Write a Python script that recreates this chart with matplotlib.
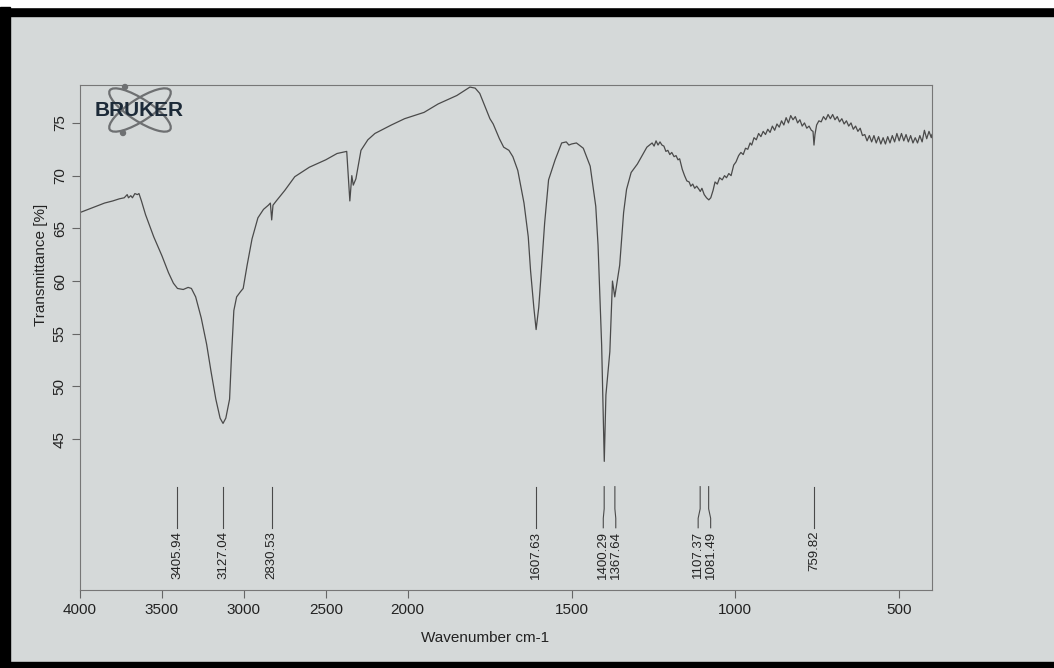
"""
FTIR spectrum, Bruker OPUS style printout with picked peaks.
The x axis is compressed by a factor of two above 2000 cm-1.
"""

import matplotlib.pyplot as plt
import numpy as np
from matplotlib.patches import Ellipse, Circle, Rectangle

WAVENUMBER = [
    4000, 3950, 3900, 3850, 3800, 3760, 3730, 3712, 3704, 3690, 3680, 3665,
    3650, 3640, 3625, 3600, 3550, 3500, 3460, 3430, 3405, 3370, 3340, 3320,
    3294, 3260, 3227, 3200, 3171, 3145, 3127, 3110, 3087, 3075, 3061, 3044,
    3020, 3004, 2980, 2950, 2914, 2880, 2850, 2838, 2830, 2822, 2802, 2750,
    2689, 2600, 2500, 2431, 2372, 2353, 2341, 2332, 2316, 2285, 2243, 2200,
    2100, 2019, 1950, 1907, 1850, 1820, 1810, 1794, 1780, 1767, 1749, 1739,
    1720, 1707, 1691, 1679, 1664, 1645, 1632, 1625, 1615, 1608, 1600, 1594,
    1582, 1570, 1550, 1530, 1516, 1508, 1500, 1485, 1464, 1443, 1426, 1419,
    1408, 1400, 1395, 1383, 1375, 1368, 1353, 1341, 1332, 1318, 1299, 1270,
    1262, 1254, 1248, 1242, 1236, 1230, 1224, 1218, 1212, 1206, 1200, 1194,
    1187, 1181, 1175, 1170, 1162, 1155, 1148, 1141, 1136, 1130, 1124, 1118,
    1111, 1107, 1102, 1095, 1088, 1081, 1075, 1068, 1062, 1055, 1048, 1040,
    1033, 1027, 1020, 1013, 1005, 998, 990, 983, 976, 969, 962, 955,
    950, 943, 936, 929, 922, 915, 908, 901, 894, 887, 880, 873,
    866, 859, 852, 845, 838, 831, 824, 817, 810, 803, 796, 789,
    782, 775, 768, 763, 760, 757, 752, 745, 738, 731, 724, 717,
    710, 703, 696, 689, 682, 675, 668, 661, 654, 647, 640, 633,
    626, 619, 612, 605, 598, 591, 584, 577, 570, 563, 556, 549,
    542, 535, 528, 521, 514, 507, 500, 493, 486, 479, 472, 465,
    458, 451, 444, 437, 430, 423, 416, 409, 402, 400,
]
TRANSMITTANCE = [
    66.5, 66.8, 67.1, 67.4, 67.6, 67.8, 67.9, 68.2, 67.9, 68.1, 67.9, 68.3,
    68.2, 68.3, 67.6, 66.3, 64.2, 62.4, 60.8, 59.8, 59.3, 59.2, 59.4, 59.3,
    58.5, 56.5, 54.0, 51.4, 48.8, 47.0, 46.5, 47.0, 48.8, 53.0, 57.2, 58.5,
    59.0, 59.3, 61.5, 64.0, 66.0, 66.8, 67.2, 67.4, 65.8, 67.2, 67.6, 68.6,
    69.9, 70.8, 71.5, 72.1, 72.3, 67.6, 70.0, 69.1, 69.7, 72.4, 73.4, 74.0,
    74.8, 75.4, 76.0, 76.8, 77.6, 78.2, 78.4, 78.3, 77.8, 76.8, 75.4, 74.9,
    73.5, 72.7, 72.4, 71.8, 70.5, 67.4, 64.2, 61.0, 57.5, 55.4, 57.5, 60.1,
    65.5, 69.6, 71.5, 73.1, 73.2, 72.9, 73.0, 73.1, 72.6, 70.9, 67.1, 63.4,
    53.9, 42.9, 49.2, 53.3, 60.0, 58.5, 61.5, 66.5, 68.7, 70.3, 71.1, 72.7,
    72.9, 73.1, 72.8, 73.3, 72.9, 73.2, 72.9, 72.8, 72.3, 72.4, 72.0, 72.2,
    71.8, 71.9, 71.5, 71.6, 70.6, 70.0, 69.5, 69.4, 69.0, 69.2, 68.8, 69.0,
    68.7, 68.5, 68.8, 68.2, 67.9, 67.7, 67.9, 68.6, 69.4, 69.2, 69.8, 69.6,
    70.0, 69.8, 70.2, 70.0, 71.0, 71.3, 71.9, 72.2, 72.0, 72.6, 72.5, 73.1,
    72.9, 73.6, 73.4, 74.0, 73.7, 74.2, 73.9, 74.4, 74.1, 74.7, 74.3, 74.9,
    74.6, 75.2, 74.8, 75.5, 75.0, 75.7, 75.3, 75.6, 75.0, 75.3, 74.7, 75.0,
    74.5, 74.7, 74.3, 74.2, 72.9, 73.9, 74.8, 75.2, 75.1, 75.6, 75.3, 75.8,
    75.4, 75.8, 75.3, 75.6, 75.1, 75.4, 74.9, 75.2, 74.7, 75.0, 74.4, 74.7,
    74.2, 74.5, 73.8, 73.9, 73.3, 73.8, 73.2, 73.8, 73.1, 73.7, 73.0, 73.6,
    73.0, 73.7, 73.1, 73.8, 73.2, 74.0, 73.3, 74.0, 73.3, 73.9, 73.2, 73.8,
    73.1, 73.6, 73.1, 73.8, 73.2, 74.3, 73.5, 74.2, 73.6, 73.9,
]

PEAKS = [3405.94, 3127.04, 2830.53, 1607.63, 1400.29, 1367.64,
         1107.37, 1081.49, 759.82]
X_TICKS = [4000, 3500, 3000, 2500, 2000, 1500, 1000, 500]
Y_TICKS = [45, 50, 55, 60, 65, 70, 75]

PAPER = "#d5d9d9"
INK = "#4a4a4a"


def forward(x):
    x = np.asarray(x, dtype=float)
    return np.where(x > 2000, 2000 + (x - 2000) / 2, x)


def inverse(x):
    x = np.asarray(x, dtype=float)
    return np.where(x > 2000, 2000 + (x - 2000) * 2, x)


def spread_labels(ax, peaks, gap_px):
    """Push label columns apart so neighbouring texts do not overlap."""
    xs = [ax.transData.transform((p, 50))[0] for p in peaks]
    placed = []
    for x in xs:
        if placed and x < placed[-1] + gap_px:
            # move the previous one back a little and this one forward
            shift = (placed[-1] + gap_px - x) / 2
            placed[-1] -= shift
            x = placed[-1] + gap_px
        placed.append(x)
    inv = ax.transData.inverted()
    return [inv.transform((x, 50))[0] for x in placed]


def draw_logo(fig):
    lax = fig.add_axes([92 / 1054, 1 - 137 / 668, 94 / 1054, 54 / 668])
    lax.set_xlim(0, 94)
    lax.set_ylim(0, 54)
    lax.axis("off")
    for angle in (33, -33):
        lax.add_patch(Ellipse((48, 27), 72, 22, angle=angle, fill=False,
                              ec="#6e7072", lw=1.6))
    for cx, cy in [(33, 50), (31, 4)]:
        lax.add_patch(Circle((cx, cy), 2.5, color="#6e7072"))
    lax.text(47, 27, "BRUKER", ha="center", va="center", fontsize=15,
             fontweight="heavy", color="#1c2a38", family="Liberation Sans")


def main():
    plt.rcParams["font.family"] = ["Liberation Sans", "DejaVu Sans"]

    fig = plt.figure(figsize=(10.54, 6.68), dpi=100, facecolor=PAPER)

    # photo frame edges
    fig.patches.append(Rectangle((0, 1 - 16 / 668), 1, 9 / 668, color="black",
                                 transform=fig.transFigure, zorder=-1))
    fig.patches.append(Rectangle((0, 1 - 7 / 668), 1, 7 / 668, color="white",
                                 transform=fig.transFigure, zorder=-1))
    fig.patches.append(Rectangle((0, 0), 10 / 1054, 1 - 7 / 668, color="black",
                                 transform=fig.transFigure, zorder=-1))
    fig.patches.append(Rectangle((0, 0), 1, 6 / 668, color="black",
                                 transform=fig.transFigure, zorder=-1))

    ax = fig.add_axes([0.0759, 0.1168, 0.8083, 0.756], facecolor=PAPER)
    ax.set_xscale("function", functions=(forward, inverse))
    ax.set_xlim(4000, 400)
    ax.set_ylim(30.7, 78.6)

    ax.plot(WAVENUMBER, TRANSMITTANCE, color=INK, lw=0.9)

    # peak picks: short line above a rotated label
    text_x = spread_labels(ax, PEAKS, 12.5)
    for peak, tx in zip(PEAKS, text_x):
        ax.plot([peak, peak, tx, tx], [40.5, 38.4, 37.5, 36.6],
                color=INK, lw=0.8)
        ax.text(tx, 36.3, f"{peak:.2f}", rotation=90, ha="center", va="top",
                fontsize=9.5, color="#222222")

    ax.set_xticks(X_TICKS)
    ax.set_xticklabels([str(t) for t in X_TICKS])
    ax.xaxis.set_minor_locator(plt.NullLocator())
    ax.set_yticks(Y_TICKS)
    ax.tick_params(direction="out", length=6, width=0.8, color="#666666",
                   labelsize=11, labelcolor="#222222")
    ax.tick_params(axis="y", labelrotation=90)
    plt.setp(ax.get_yticklabels(), va="center")

    for spine in ax.spines.values():
        spine.set_color("#777777")
        spine.set_linewidth(0.8)

    ax.set_xlabel("Wavenumber cm-1", fontsize=11, color="#222222", labelpad=10)
    ax.xaxis.label.set_x(0.475)
    ax.set_ylabel("Transmittance [%]", fontsize=11, color="#222222")
    ax.yaxis.set_label_coords(-0.038, 0.644)

    draw_logo(fig)

    fig.savefig("out.png", dpi=100, facecolor=fig.get_facecolor())


if __name__ == "__main__":
    main()
